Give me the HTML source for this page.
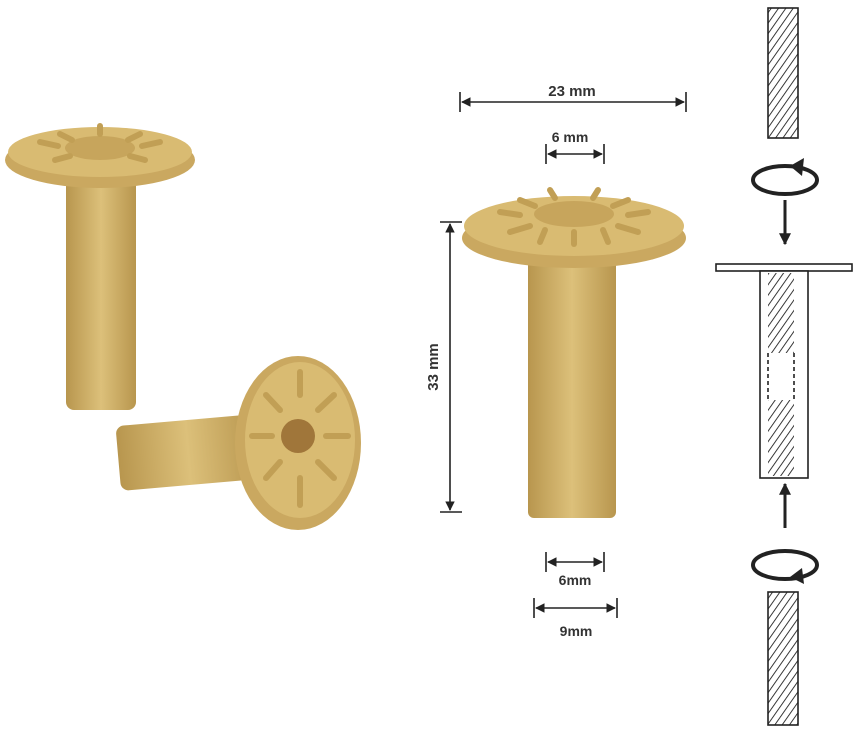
<!DOCTYPE html>
<html><head><style>body{margin:0;background:#fff}svg{display:block}text{font-family:"Liberation Sans",sans-serif;font-weight:bold;fill:#333}</style></head><body>
<svg width="862" height="732" viewBox="0 0 862 732">
<defs>
<pattern id="h" width="6" height="6" patternUnits="userSpaceOnUse" patternTransform="rotate(35)"><line x1="0" y1="0" x2="0" y2="6" stroke="#222" stroke-width="1.8"/></pattern>
<linearGradient id="g" x1="0" x2="1"><stop offset="0" stop-color="#b8964e"/><stop offset="0.5" stop-color="#dcc07a"/><stop offset="1" stop-color="#b8964e"/></linearGradient>
<marker id="a" viewBox="0 0 10 10" refX="9" refY="5" markerWidth="6" markerHeight="6" orient="auto-start-reverse"><path d="M0 0L10 5L0 10z" fill="#222"/></marker>
<marker id="b" viewBox="0 0 10 10" refX="9" refY="5" markerWidth="4" markerHeight="4" orient="auto"><path d="M0 0L10 5L0 10z" fill="#222"/></marker>
</defs>
<!-- left top piece -->
<rect x="66" y="170" width="70" height="240" rx="8" fill="url(#g)"/>
<ellipse cx="100" cy="160" rx="95" ry="28" fill="#caa860"/>
<ellipse cx="100" cy="152" rx="92" ry="25" fill="#d9bb72"/>
<ellipse cx="100" cy="148" rx="35" ry="12" fill="#c7a55c"/>
<g stroke="#c19f55" stroke-width="6" stroke-linecap="round">
<line x1="40" y1="142" x2="58" y2="146"/><line x1="142" y1="146" x2="160" y2="142"/><line x1="60" y1="134" x2="72" y2="140"/><line x1="128" y1="140" x2="140" y2="134"/><line x1="100" y1="126" x2="100" y2="134"/><line x1="55" y1="160" x2="70" y2="156"/><line x1="130" y1="156" x2="145" y2="160"/>
</g>
<!-- left bottom piece -->
<rect x="118" y="420" width="140" height="65" rx="8" fill="url(#g)" transform="rotate(-5 188 452)"/>
<ellipse cx="298" cy="443" rx="63" ry="87" fill="#caa860"/>
<ellipse cx="300" cy="440" rx="55" ry="78" fill="#d9bb72"/>
<g stroke="#c19f55" stroke-width="6" stroke-linecap="round">
<line x1="300" y1="372" x2="300" y2="395"/><line x1="300" y1="478" x2="300" y2="505"/><line x1="252" y1="436" x2="272" y2="436"/><line x1="326" y1="436" x2="348" y2="436"/><line x1="266" y1="395" x2="280" y2="410"/><line x1="318" y1="410" x2="334" y2="395"/><line x1="266" y1="478" x2="280" y2="462"/><line x1="318" y1="462" x2="334" y2="478"/>
</g>
<circle cx="298" cy="436" r="17" fill="#a0763a"/>
<!-- middle piece -->
<rect x="528" y="240" width="88" height="278" rx="6" fill="url(#g)"/>
<ellipse cx="574" cy="238" rx="112" ry="30" fill="#caa860"/>
<ellipse cx="574" cy="226" rx="110" ry="30" fill="#d9bb72"/>
<ellipse cx="574" cy="214" rx="40" ry="13" fill="#c7a55c"/>
<g stroke="#c19f55" stroke-width="6" stroke-linecap="round">
<line x1="500" y1="212" x2="520" y2="215"/><line x1="628" y1="215" x2="648" y2="212"/><line x1="520" y1="200" x2="535" y2="206"/><line x1="613" y1="206" x2="628" y2="200"/><line x1="550" y1="190" x2="555" y2="198"/><line x1="598" y1="190" x2="593" y2="198"/><line x1="510" y1="232" x2="530" y2="226"/><line x1="618" y1="226" x2="638" y2="232"/><line x1="574" y1="232" x2="574" y2="244"/><line x1="545" y1="230" x2="540" y2="242"/><line x1="603" y1="230" x2="608" y2="242"/>
</g>
<!-- dims -->
<g stroke="#222" stroke-width="1.6" fill="none">
<line x1="460" y1="92" x2="460" y2="112"/><line x1="686" y1="92" x2="686" y2="112"/>
<line x1="462" y1="102" x2="684" y2="102" marker-start="url(#a)" marker-end="url(#a)"/>
<line x1="546" y1="144" x2="546" y2="164"/><line x1="604" y1="144" x2="604" y2="164"/>
<line x1="548" y1="154" x2="602" y2="154" marker-start="url(#a)" marker-end="url(#a)"/>
<line x1="440" y1="222" x2="462" y2="222"/><line x1="440" y1="512" x2="462" y2="512"/>
<line x1="450" y1="224" x2="450" y2="510" marker-start="url(#a)" marker-end="url(#a)"/>
<line x1="546" y1="552" x2="546" y2="572"/><line x1="604" y1="552" x2="604" y2="572"/>
<line x1="548" y1="562" x2="602" y2="562" marker-start="url(#a)" marker-end="url(#a)"/>
<line x1="534" y1="598" x2="534" y2="618"/><line x1="617" y1="598" x2="617" y2="618"/>
<line x1="536" y1="608" x2="615" y2="608" marker-start="url(#a)" marker-end="url(#a)"/>
</g>
<text x="572" y="96" font-size="15" text-anchor="middle">23 mm</text>
<text x="570" y="142" font-size="14" text-anchor="middle">6 mm</text>
<text x="575" y="585" font-size="14" text-anchor="middle">6mm</text>
<text x="576" y="636" font-size="14" text-anchor="middle">9mm</text>
<text x="438" y="367" font-size="15" text-anchor="middle" transform="rotate(-90 438 367)">33 mm</text>
<!-- right diagram -->
<g stroke="#222" stroke-width="1.6">
<rect x="768" y="8" width="30" height="130" fill="url(#h)"/>
<rect x="768" y="592" width="30" height="133" fill="url(#h)"/>
<rect x="716" y="264" width="136" height="7" fill="#fff"/>
<rect x="760" y="271" width="48" height="207" fill="#fff"/>
<rect x="768" y="273" width="26" height="80" fill="url(#h)" stroke="none"/>
<rect x="768" y="400" width="26" height="76" fill="url(#h)" stroke="none"/>
<line x1="768" y1="353" x2="768" y2="400" stroke-dasharray="4 3"/><line x1="794" y1="353" x2="794" y2="400" stroke-dasharray="4 3"/>
<line x1="785" y1="200" x2="785" y2="244" stroke-width="3" marker-end="url(#b)"/>
<line x1="785" y1="528" x2="785" y2="484" stroke-width="3" marker-end="url(#b)"/>
<ellipse cx="785" cy="180" rx="32" ry="14" fill="none" stroke-width="4"/>
<ellipse cx="785" cy="565" rx="32" ry="14" fill="none" stroke-width="4"/>
</g>
<path d="M790 166 L804 158 L802 176 Z" fill="#222"/>
<path d="M780 579 L766 572 L768 588 Z" fill="#222" transform="rotate(180 785 578)"/>
</svg>
</body></html>
